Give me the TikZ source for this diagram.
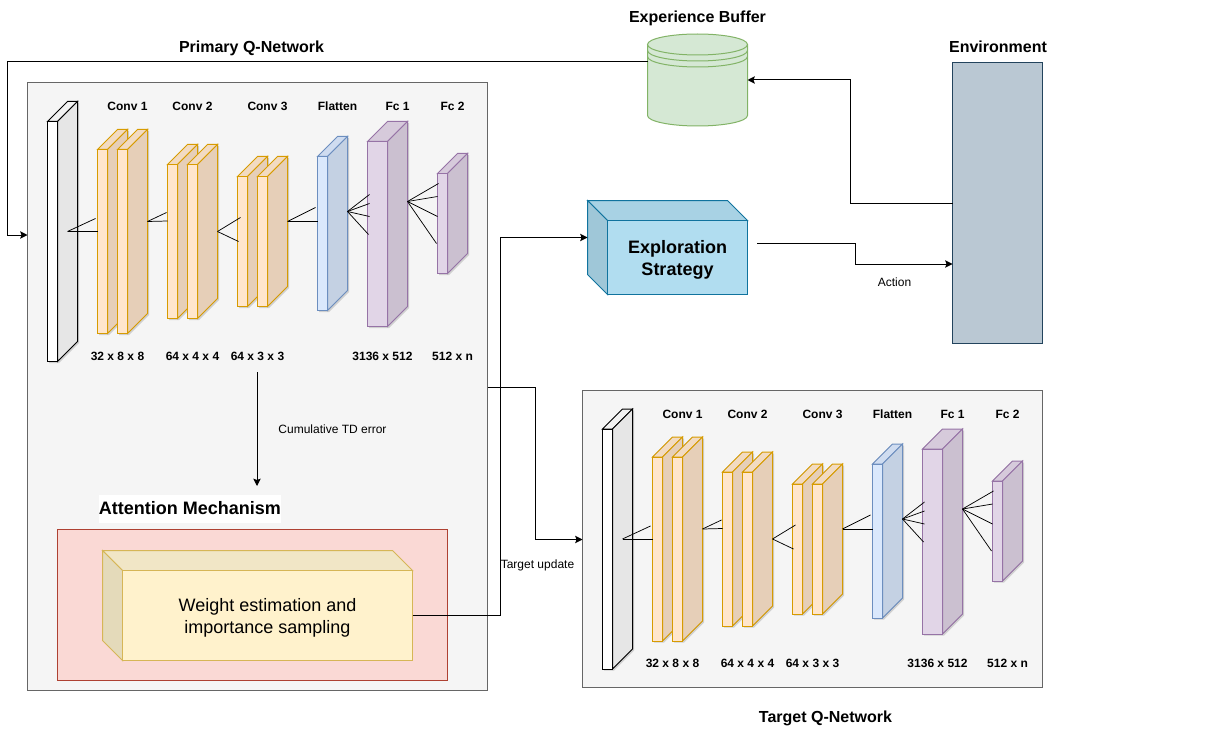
\documentclass[tikz,border=0pt]{standalone}
\usepackage{fontspec}
\setmainfont{Liberation Sans}
\usetikzlibrary{shadows,arrows.meta}

\definecolor{convF}{HTML}{FFE6CC}\definecolor{convS}{HTML}{E6CFB8}\definecolor{convT}{HTML}{F2DBC2}\definecolor{convD}{HTML}{D79B00}
\definecolor{flatF}{HTML}{DAE8FC}\definecolor{flatS}{HTML}{C4D1E3}\definecolor{flatT}{HTML}{CFDCF0}\definecolor{flatD}{HTML}{6C8EBF}
\definecolor{fcF}{HTML}{E1D5E7}\definecolor{fcS}{HTML}{CBC0D0}\definecolor{fcT}{HTML}{D6CADB}\definecolor{fcD}{HTML}{9673A6}
\definecolor{inF}{HTML}{FFFFFF}\definecolor{inS}{HTML}{E6E6E6}\definecolor{inT}{HTML}{F2F2F2}\definecolor{inD}{HTML}{000000}
\definecolor{redF}{HTML}{FAD9D5}\definecolor{redD}{HTML}{AE4132}
\definecolor{yelF}{HTML}{FFF2CC}\definecolor{yelT}{HTML}{F1E6C6}\definecolor{yelS}{HTML}{E4DABA}\definecolor{yelD}{HTML}{D6B656}
\definecolor{bluF}{HTML}{B1DDF0}\definecolor{bluT}{HTML}{A8D2E4}\definecolor{bluS}{HTML}{9FC7D8}\definecolor{bluD}{HTML}{10739E}
\definecolor{envF}{HTML}{BAC8D3}\definecolor{envD}{HTML}{23445D}
\definecolor{bufF}{HTML}{D5E8D4}\definecolor{bufD}{HTML}{82B366}

\tikzset{
    panel/.style={draw=#1,inner sep=0,outer sep=0,anchor=north west},
    link/.style={draw=black,-{Stealth[length=5.5pt,width=5.5pt,inset=1pt]}},
    fanline/.style={draw=black,line width=.55pt},
    lab/.style={font=\bfseries\fontsize{9}{10}\selectfont,inner sep=0,text height=6.5pt,text depth=0pt},
    small/.style={font=\fontsize{9}{10}\selectfont,inner sep=0,text height=6.5pt,text depth=0pt},
    head/.style={font=\bfseries\fontsize{12}{14}\selectfont,inner sep=0,text height=8.6pt,text depth=0pt},
    inbox/.style={inner sep=0,align=center,yshift=-1.5pt,font=\fontsize{13.5}{16.5}\selectfont},
    boxshadow/.style={drop shadow={shadow xshift=1.2pt,shadow yshift=-1.2pt,opacity=.15,fill=black}},
}

% couche : nom, x, y, largeur, hauteur, couleurs
\newcommand{\layer}[6]{
    \fill[boxshadow] (#2,#3) -- ++(20,-20) -- ++(#4,0) -- ++(0,#5) -- ++(-20,20) -- ++(-#4,0) -- cycle;
    \draw[#6D,fill=#6T] (#2,#3) -- ++(20,-20) -- ++(#4,0) -- ++(-20,20) -- cycle;
    \draw[#6D,fill=#6S] (#2+#4,#3) -- ++(20,-20) -- ++(0,#5) -- ++(-20,20) -- cycle;
    \node[panel=#6D,fill=#6F,minimum width=#4*.75pt,minimum height=#5*.75pt] (#1) at (#2,#3) {};
}

% reseau complet, coordonnees du panneau de gauche
\newcommand{\qnet}{
    \layer{input}{47}{121}{10}{240}{in}
    \layer{convAa}{97}{149}{10}{184}{conv}
    \layer{convAb}{117}{149}{10}{184}{conv}
    \layer{convBa}{167}{164}{10}{154}{conv}
    \layer{convBb}{187}{164}{10}{154}{conv}
    \layer{convCa}{237}{176}{10}{130}{conv}
    \layer{convCb}{257}{176}{10}{130}{conv}
    \layer{flatten}{317}{156}{10}{154}{flat}
    \layer{fcA}{367}{141}{20}{185}{fc}
    \layer{fcB}{437}{173}{10}{100}{fc}
    % liaisons
    \coordinate (fanA) at (67,231);
    \coordinate (fanB) at (147,221);
    \coordinate (fanC) at (217,231);
    \coordinate (fanD) at (287,221);
    \coordinate (fanE) at (347,211);
    \coordinate (fanF) at (407,201);
    \foreach \o/\dx/\dy in {fanA/30/0,fanA/28/-13,fanB/20/-.5,fanB/19/-9,fanC/23/-14,fanC/21/10,
        fanD/30/0,fanD/28/-14,fanE/22/-17,fanE/22/-8,fanE/22/5,fanE/21/23,
        fanF/31/-18,fanF/30/-5,fanF/30/15,fanF/29/42}
        \draw[fanline] (\o) -- +(\dx,\dy);
    % textes
    \foreach \nm/\px/\txt in {ta/127/Conv 1,tb/192/Conv 2,tc/267/Conv 3,td/337/Flatten,te/397/Fc 1,tf/452/Fc 2}
        \node[lab] (\nm) at (\px,106) {\txt};
    \foreach \nm/\px/\txt in {ba/117/32 x 8 x 8,bb/192/64 x 4 x 4,bc/257/64 x 3 x 3,bd/382/3136 x 512,be/452/512 x n}
        \node[lab] (\nm) at (\px,355.5) {\txt};
}

\begin{document}
\begin{tikzpicture}[x=.75pt,y=-.75pt,line width=.75pt]
    \useasboundingbox (0,0) rectangle (1205,738);
    % panneaux
    \node[panel=black!60,fill=black!4,minimum width=460*.75pt,minimum height=607*.75pt] (primary) at (27.5,83) {};
    \node[panel=black!60,fill=black!4,minimum width=460*.75pt,minimum height=297*.75pt] (target) at (582.5,390.5) {};
    \begin{scope}[shift={(.5,.5)}]
        \qnet
    \end{scope}
    \begin{scope}[shift={(555.5,308)}]
        \qnet
    \end{scope}
    % attention
    \node[panel=redD,fill=redF,minimum width=390*.75pt,minimum height=151.5*.75pt] (attention) at (57.5,529) {};
    \draw[yelD,fill=yelT] (102.5,550.5) -- +(290,0) -- (412.5,570.5) -- (122.5,570.5) -- cycle;
    \draw[yelD,fill=yelS] (102.5,550.5) -- (122.5,570.5) -- (122.5,660.5) -- (102.5,640.5) -- cycle;
    \node[panel=yelD,fill=yelF,minimum width=290*.75pt,minimum height=90*.75pt] (weight) at (122.5,570.5) {};
    \node[inbox] (weightText) at (weight.center) {Weight estimation and\\importance sampling};
    % exploration
    \draw[bluD,fill=bluT] (587.5,200.5) -- +(140,0) -- (747.5,220.5) -- (607.5,220.5) -- cycle;
    \draw[bluD,fill=bluS] (587.5,200.5) -- (607.5,220.5) -- (607.5,294.5) -- (587.5,274.5) -- cycle;
    \node[panel=bluD,fill=bluF,minimum width=140*.75pt,minimum height=74*.75pt] (explore) at (607.5,220.5) {};
    \node[inbox,font=\bfseries\fontsize{13.5}{16.5}\selectfont] (exploreText) at (explore.center) {Exploration\\Strategy};
    % environnement
    \node[panel=envD,fill=envF,minimum width=90*.75pt,minimum height=280*.75pt] (env) at (952.5,63) {};
    % buffer
    \draw[bufD,fill=bufF] (647.5,44.5) -- (647.5,115.5) arc[start angle=180,end angle=0,x radius=50,y radius=10.5] -- (747.5,44.5);
    \draw[bufD,fill=bufF] (697.5,44.5) ellipse[x radius=50,y radius=10.5];
    \foreach \dy in {50.5,56.5}
        \draw[bufD] (647.5,\dy) arc[start angle=180,end angle=0,x radius=50,y radius=10.5];
    \node[inner sep=0,outer sep=0,minimum width=100*.75pt,minimum height=92*.75pt] (buffer) at (697.5,80) {};
    % fleches
    \coordinate (actionStart) at (757,243);
    \coordinate (primaryOut) at (487.5,387);
    \coordinate (errStart) at (257,372);
    \coordinate (errEnd) at (257,486);
    \draw[link] (buffer.west |- 0,62) -- (7.5,62) -- (7.5,235) -- (primary.west |- 0,235);
    \draw[link] (env.west |- 0,203) -- (850,203) -- (850,80) -- (buffer.east);
    \draw[link] (actionStart) -- (855,243) -- (855,264) -- (env.west |- 0,264);
    \draw[link] (primaryOut) -- (535,387) -- (535,539.5) -- (target.west |- 0,539.5);
    \draw[link] (weight.east) -- (500,615.5) -- (500,237.5) -- (587.5,237.5);
    \draw[link] (errStart) -- (errEnd);
    % titres
    \node[head] (lprimary) at (251.5,46.5) {Primary Q-Network};
    \node[head] (lbuffer) at (697.5,16.5) {Experience Buffer};
    \node[head] (lenv) at (998,46.5) {Environment};
    \node[head] (ltarget) at (825.5,716.5) {Target Q-Network};
    \node[head,font=\bfseries\fontsize{13.5}{16}\selectfont,fill=white,text height=9.7pt,minimum width=182*.75pt,minimum height=28*.75pt] (lattention) at (190,508.5) {Attention Mechanism};
    \node[small] (laction) at (894.5,282) {Action};
    \node[small] (lerror) at (332.5,429) {Cumulative TD error};
    \node[small] (lupdate) at (537.5,564.5) {Target update};
\end{tikzpicture}
\end{document}
